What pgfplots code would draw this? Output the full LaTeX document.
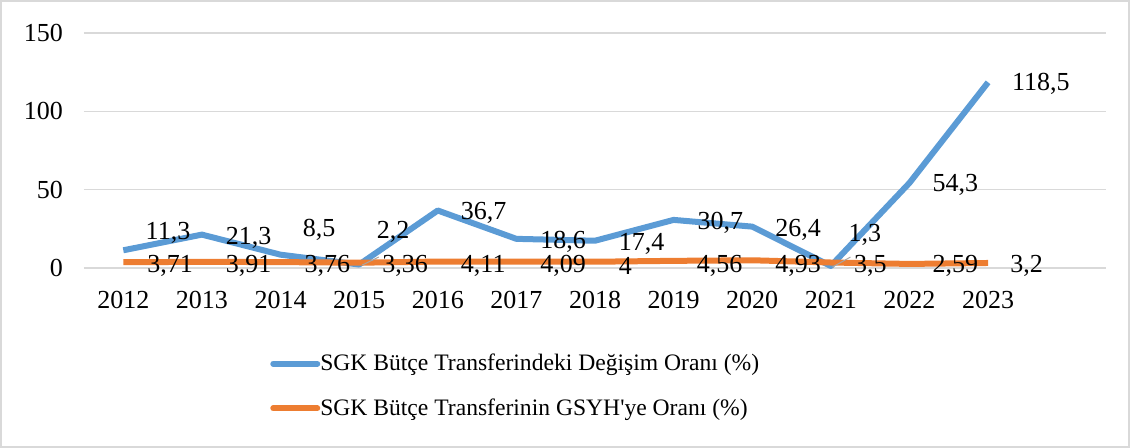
\documentclass[border=0pt]{standalone}
\usepackage{pgfplots}
\pgfplotsset{compat=1.18}
\usepackage{pgfplotstable}
\usepackage{fontspec}
\setmainfont{Liberation Serif}

\definecolor{sgkblue}{RGB}{91,155,213}
\definecolor{sgkorange}{RGB}{237,125,49}
\definecolor{gridgray}{RGB}{217,217,217}

% x = year index (0 = 2012), y = value, lx/ly = data label position
\pgfplotstableread{
x  y     lx    ly     lab
0  11.3  0.28  22.3   11,3
1  21.3  1.30  19.3   21,3
2  8.5   2.28  24.2   8,5
3  2.2   3.22  23.0   2,2
4  36.7  4.29  35.0   36,7
5  18.6  5.30  16.6   18,6
6  17.4  6.30  15.6   17,4
7  30.7  7.30  29.0   30,7
8  26.4  8.29  24.6   26,4
9  1.3   9.22  21.0   1,3
10 54.3  10.29 52.8   54,3
11 118.5 11.30 117.5  118,5
}\degisim

\pgfplotstableread{
x  y     lx    ly   lab
0  3.71  0.30  1.6  3,71
1  3.91  1.30  1.6  3,91
2  3.76  2.30  1.6  3,76
3  3.36  3.29  1.6  3,36
4  4.11  4.29  1.6  4,11
5  4.09  5.30  1.6  4,09
6  4.00  6.30  1.6  4
7  4.56  7.29  1.6  4,56
8  4.93  8.29  1.6  4,93
9  3.50  9.29  1.6  3,5
10 2.59  10.29 1.6  2,59
11 3.20  11.28 1.6  3,2
}\gsyh

\begin{document}
\begin{tikzpicture}
\begin{axis}[
    at={(42pt,90pt)}, anchor=south west,
    scale only axis,
    width=511pt, height=117.5pt,
    xmin=-0.5, xmax=12.5,
    ymin=0, ymax=150,
    xtick={0,...,11},
    xticklabels={2012,2013,2014,2015,2016,2017,2018,2019,2020,2021,2022,2023},
    ytick={0,50,100,150},
    axis line style={draw=none},
    major tick length=0pt,
    ymajorgrids,
    grid style={gridgray, line width=0.75pt},
    /pgf/number format/assume math mode=true,
    tick label style={font=\fontsize{13}{15}\selectfont, text=black},
    yticklabel style={anchor=east, xshift=-7pt},
    xticklabel style={anchor=north, yshift=-8pt},
    clip=false,
    legend style={draw=none, fill=none, at={(0.176,-0.33)}, anchor=north west,
        font=\fontsize{11.8}{14}\selectfont, row sep=8.5pt,
        nodes={inner xsep=0pt, inner ysep=2pt}},
    legend cell align=left,
    legend image code/.code={\draw[#1, line cap=round] (0pt,0pt) -- (22pt,0pt);},
]
\addplot[sgkblue, line width=3pt, line join=round] table[x=x, y=y] {\degisim};
\addlegendentry{SGK Bütçe Transferindeki Değişim Oranı (\%)}
\addplot[sgkorange, line width=3pt, line join=round] table[x=x, y=y] {\gsyh};
\addlegendentry{SGK Bütçe Transferinin GSYH\textquotesingle ye Oranı (\%)}

\draw[gray!70, line width=0.5pt] (axis cs:3.04,1.9) -- (axis cs:3.25,7);
\draw[gray!70, line width=0.5pt] (axis cs:9.02,0.6) -- (axis cs:9.25,7);

\addplot[draw=none, mark=none, forget plot, nodes near coords, point meta=explicit symbolic,
    nodes near coords style={anchor=west, inner sep=0pt, font=\fontsize{13}{15}\selectfont}]
    table[x=lx, y=ly, meta=lab] {\degisim};
\addplot[draw=none, mark=none, forget plot, nodes near coords, point meta=explicit symbolic,
    nodes near coords style={anchor=west, inner sep=0pt, font=\fontsize{13}{15}\selectfont}]
    table[x=lx, y=ly, meta=lab] {\gsyh};
\end{axis}
\draw[gridgray, line width=1pt] (0.5pt,0.5pt) rectangle (564.5pt,223.5pt);
\end{tikzpicture}
\end{document}
